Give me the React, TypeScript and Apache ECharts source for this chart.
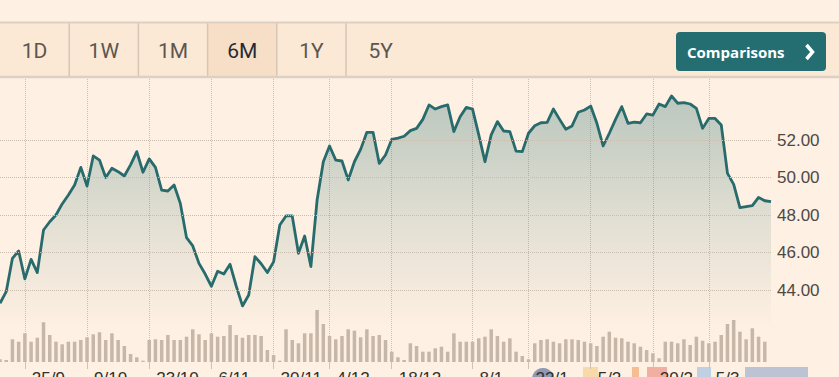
import React, { useEffect, useRef } from "react";
import * as echarts from "echarts";

const dates = [
  "19/9","20/9","21/9","22/9","25/9","26/9","27/9","28/9","29/9",
  "2/10","3/10","4/10","5/10","6/10","9/10","10/10","11/10","12/10","13/10","16/10","17/10","18/10","19/10","20/10","23/10","24/10","25/10","26/10","27/10","30/10","31/10",
  "1/11","2/11","3/11","6/11","7/11","8/11","9/11","10/11","13/11","14/11","15/11","16/11","17/11","20/11","21/11","22/11","24/11","27/11","28/11","29/11","30/11",
  "1/12","4/12","5/12","6/12","7/12","8/12","11/12","12/12","13/12","14/12","15/12","18/12","19/12","20/12","21/12","22/12","26/12","27/12","28/12","29/12",
  "2/1","3/1","4/1","5/1","8/1","9/1","10/1","11/1","12/1","16/1","17/1","18/1","19/1","22/1","23/1","24/1","25/1","26/1","29/1","30/1","31/1",
  "1/2","2/2","5/2","6/2","7/2","8/2","9/2","12/2","13/2","14/2","15/2","16/2","20/2","21/2","22/2","23/2","26/2","27/2","28/2",
  "1/3","2/3","5/3","6/3","7/3","8/3","9/3","12/3","13/3","14/3","15/3","16/3","19/3",
];

const prices = [
  43.29, 43.91, 45.69, 46.08, 44.59, 45.63, 44.93, 47.2, 47.64, 48.0,
  48.59, 49.07, 49.6, 50.54, 49.55, 51.15, 50.93, 50.0, 50.49, 50.31,
  50.08, 50.67, 51.38, 50.28, 50.99, 50.54, 49.33, 49.28, 49.6, 48.62,
  46.79, 46.35, 45.42, 44.85, 44.2, 45.0, 44.85, 45.37, 44.2, 43.15,
  43.73, 45.78, 45.4, 44.93, 45.5, 47.47, 47.95, 47.95, 45.96, 46.88,
  45.25, 48.8, 50.84, 51.68, 50.93, 50.88, 49.87, 50.84, 51.5, 52.41,
  52.41, 50.75, 51.2, 52.03, 52.1, 52.2, 52.5, 52.62, 53.1, 53.87,
  53.65, 53.78, 53.87, 52.45, 53.24, 53.74, 53.65, 52.27, 50.84, 52.27,
  52.98, 52.48, 52.45, 51.41, 51.38, 52.36, 52.76, 52.92, 52.94, 53.65,
  53.1, 52.57, 52.75, 53.48, 53.6, 53.81, 52.89, 51.68, 52.36, 53.1,
  53.78, 52.89, 52.95, 52.92, 53.39, 53.33, 53.92, 53.78, 54.35, 53.96,
  53.99, 53.92, 53.69, 52.62, 53.15, 53.15, 52.8, 50.22, 49.63, 48.39,
  48.45, 48.5, 48.94, 48.76, 48.71,
];

const volumes = [
  2.7, 2, 22.7, 20.3, 28.7, 20.3, 24.3, 39.7, 27, 20.3,
  17.7, 20.3, 20.3, 22, 24.7, 27.7, 29.7, 22, 28.7, 22,
  16, 8, 4.7, 1.3, 22, 22.7, 22, 27, 22, 22,
  25.3, 32.7, 27.7, 22, 28.7, 25.3, 26, 37, 27, 24.3,
  27, 27, 26, 12, 7, 1.3, 32.7, 22, 18.7, 28.7,
  28.7, 52, 38, 26, 22.7, 26, 32.7, 31.3, 24.7, 32.7,
  26, 27, 22, 10.3, 4.7, 2, 18.7, 16, 10.3, 10.3,
  13.7, 15.3, 10.3, 28.7, 20.3, 20.3, 20.3, 23.7, 25.3, 32.7,
  26, 20.3, 23.7, 10.3, 6, 2.7, 18.7, 22, 22.7, 20.3,
  18.7, 22.7, 22.7, 22, 20.3, 18.7, 16, 25.3, 30.3, 24.3,
  23.7, 20.3, 18.7, 15.3, 12, 8.7, 3.7, 20.3, 20.3, 18.7,
  22.7, 17, 25.3, 21.3, 18.7, 20.3, 27, 38, 42, 30.3,
  22.7, 33.7, 25.3, 20.3, 0,
];

const tickDates = ["25/9","9/10","23/10","6/11","20/11","4/12","18/12","8/1","22/1","5/2","20/2","5/3"];
const priceGridValues = [44, 46, 48, 50, 52];
const periods = ["1D", "1W", "1M", "6M", "1Y", "5Y"];
const selectedPeriod = "6M";
const buttonLabel = "Comparisons";

const BG = "#FEF0E2";

export default function App() {
  const ref = useRef<HTMLDivElement>(null);

  useEffect(() => {
    if (!ref.current) return;
    const chart = echarts.init(ref.current, undefined, { renderer: "svg" });
    const isTick = (_i: number, v: string) => tickDates.includes(v);

    const cellW = 69.2;
    const toolbar: any[] = [];
    toolbar.push({ type: "rect", shape: { x: 0, y: 22, width: 839, height: 55 }, style: { fill: "#FBE8D5" }, z: 10 });
    periods.forEach((p, i) => {
      if (p === selectedPeriod) {
        toolbar.push({ type: "rect", shape: { x: i * cellW, y: 23, width: cellW, height: 54 }, style: { fill: "#F7DEC7" }, z: 11 });
      }
      if (i > 0) {
        toolbar.push({ type: "line", shape: { x1: i * cellW, y1: 23, x2: i * cellW, y2: 77 }, style: { stroke: "#D6C7B8", lineWidth: 1.5 }, z: 12 });
      }
      toolbar.push({
        type: "text",
        x: i * cellW + cellW / 2,
        y: 51,
        style: {
          text: p,
          fill: p === selectedPeriod ? "#262a33" : "#5b5650",
          font: "400 21px Roboto",
          align: "center",
          verticalAlign: "middle",
        },
        z: 13,
      });
    });
    toolbar.push({ type: "line", shape: { x1: 0, y1: 22.5, x2: 839, y2: 22.5 }, style: { stroke: "#DDD0C3", lineWidth: 2 }, z: 12 });
    toolbar.push({ type: "line", shape: { x1: 0, y1: 77, x2: 839, y2: 77 }, style: { stroke: "#DDD0C3", lineWidth: 2.5 }, z: 12 });
    toolbar.push({ type: "rect", shape: { x: 676, y: 32, width: 150, height: 39, r: 4 }, style: { fill: "#246E72" }, z: 13 });
    toolbar.push({
      type: "text", x: 687, y: 51.5,
      style: { text: buttonLabel, fill: "#ffffff", font: "700 15px 'Open Sans'", align: "left", verticalAlign: "middle" },
      z: 14,
    });
    toolbar.push({
      type: "polyline", shape: { points: [[806.5, 45], [812.5, 52], [806.5, 59]] },
      style: { stroke: "#ffffff", lineWidth: 3.5, fill: null, lineJoin: "miter" }, z: 14,
    });

    const markers: any[] = [
      { type: "circle", shape: { cx: 543, cy: 379, r: 11 }, style: { fill: "#9098B2" }, z: -1 },
      { type: "rect", shape: { x: 583, y: 367, width: 15, height: 12 }, style: { fill: "#F8DAA9" }, z: -1 },
      { type: "rect", shape: { x: 632, y: 367, width: 7, height: 12 }, style: { fill: "#F5BD92" }, z: -1 },
      { type: "rect", shape: { x: 647, y: 367, width: 20, height: 12 }, style: { fill: "#F1AFA2" }, z: -1 },
      { type: "rect", shape: { x: 697, y: 367, width: 14, height: 12 }, style: { fill: "#BED0E2" }, z: -1 },
      { type: "rect", shape: { x: 745, y: 367, width: 63, height: 12 }, style: { fill: "#BCC4D4" }, z: -1 },
    ];

    chart.setOption({
      animation: false,
      backgroundColor: BG,
      grid: [
        { left: 0, top: 77, width: 771, height: 285, outerBoundsMode: "none", containLabel: false },
        { left: 0, top: 65, width: 771, height: 262.5, outerBoundsMode: "none", containLabel: false },
      ],
      xAxis: [
        {
          type: "category", gridIndex: 0, data: dates, boundaryGap: false,
          axisLine: { show: false },
          axisTick: { show: true, interval: isTick, length: 7, lineStyle: { color: "#CFC3B6", width: 1 } },
          axisLabel: {
            interval: isTick, align: "left", margin: 8, padding: [0, 0, 0, 7],
            color: "#33302e", fontSize: 17, fontFamily: "'Liberation Sans', Arial, sans-serif",
          },
          splitLine: { show: true, interval: isTick, lineStyle: { color: "#CDC1B4", type: "dotted", width: 1 } },
        },
        { type: "category", gridIndex: 1, data: dates, boundaryGap: false, show: false },
      ],
      yAxis: [
        { type: "value", gridIndex: 0, min: 0, max: 285, show: false, splitLine: { show: false } },
        {
          type: "value", gridIndex: 1, min: 42, max: 56, interval: 2, position: "right",
          axisLine: { show: false }, axisTick: { show: false }, splitLine: { show: false },
          axisLabel: {
            margin: 6, color: "#4d4945", fontSize: 17, fontFamily: "'Liberation Sans', Arial, sans-serif",
            formatter: (v: number) => (priceGridValues.includes(v) ? v.toFixed(2) : ""),
          },
        },
      ],
      series: [
        {
          type: "bar", xAxisIndex: 0, yAxisIndex: 0, data: volumes, barWidth: 3.5,
          itemStyle: { color: "#C6B7A8" }, silent: true,
        },
        {
          type: "line", xAxisIndex: 1, yAxisIndex: 1, data: prices, symbol: "none",
          lineStyle: { color: "#286B6D", width: 2.8, join: "round" },
          areaStyle: {
            color: new echarts.graphic.LinearGradient(0, 0, 0, 1, [
              { offset: 0, color: "rgba(40,110,112,0.45)" },
              { offset: 0.6, color: "rgba(40,110,112,0.16)" },
              { offset: 1, color: "rgba(40,110,112,0.0)" },
            ]),
          },
          markLine: {
            silent: true, symbol: ["none", "none"], label: { show: false },
            lineStyle: { color: "#C9BDB0", type: "dotted", width: 1 },
            data: priceGridValues.map((v) => ({ yAxis: v })),
          },
        },
      ],
      graphic: [...markers, ...toolbar],
    });
    return () => chart.dispose();
  }, []);

  return (
    <div
      ref={ref}
      style={{ position: "fixed", left: 0, top: 0, width: 839, height: 377, background: BG }}
    />
  );
}
